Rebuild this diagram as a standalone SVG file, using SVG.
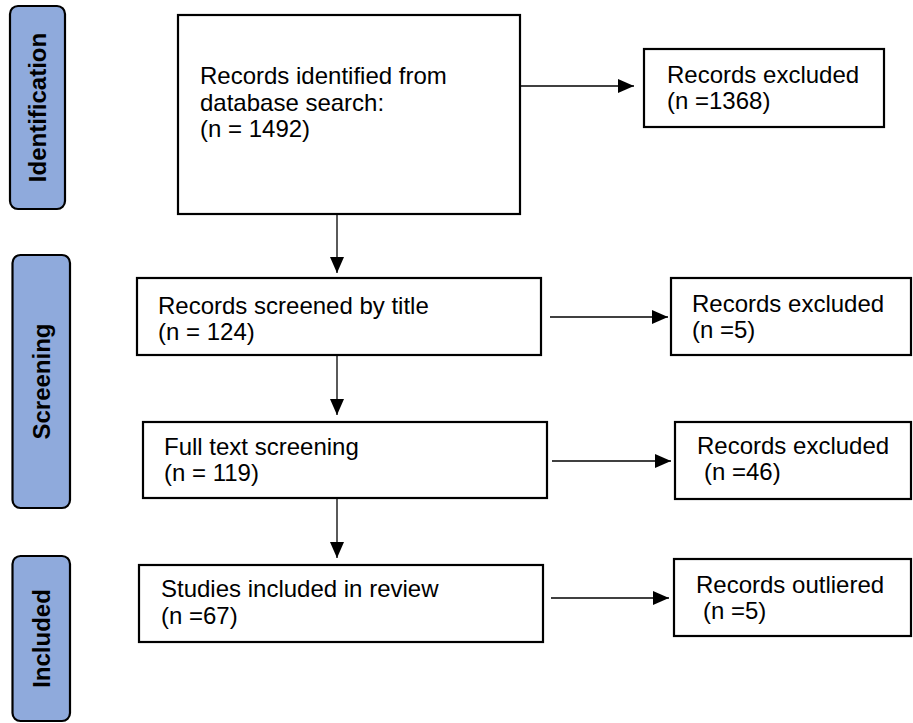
<svg xmlns="http://www.w3.org/2000/svg" width="913" height="723" viewBox="0 0 913 723">
<style>
.side{fill:#8faadc;stroke:#000;stroke-width:2.2}
.box{fill:#fff;stroke:#000;stroke-width:2.2}
.t{font-family:"Liberation Sans",Arial,sans-serif;font-size:24px;fill:#000}
.lbl{font-family:"Liberation Sans",Arial,sans-serif;font-size:24px;font-weight:bold;fill:#000;text-anchor:middle}
.c{stroke:#000;stroke-width:1.3;fill:none;marker-end:url(#ah)}
</style>
<defs>
<marker id="ah" markerUnits="userSpaceOnUse" markerWidth="16" markerHeight="14" refX="16" refY="7" orient="auto">
<path d="M0,0 L16,7 L0,14 Z" fill="#000"/>
</marker>
</defs>
<rect width="913" height="723" fill="#fff"/>
<g id="side-identification">
<rect class="side" x="10" y="6" width="55" height="203" rx="8"/>
<text class="lbl" transform="translate(46,107.5) rotate(-90)">Identification</text>
</g>
<g id="side-screening">
<rect class="side" x="12.5" y="255" width="57.5" height="253" rx="8"/>
<text class="lbl" transform="translate(50,381.5) rotate(-90)">Screening</text>
</g>
<g id="side-included">
<rect class="side" x="12.5" y="556" width="57.5" height="165" rx="8"/>
<text class="lbl" transform="translate(50,638.5) rotate(-90)">Included</text>
</g>
<g id="connectors">
<line class="c" x1="517" y1="86" x2="634" y2="86"/>
<line class="c" x1="337" y1="214" x2="337" y2="273"/>
<line class="c" x1="550" y1="317" x2="668" y2="317"/>
<line class="c" x1="337" y1="355" x2="337" y2="415"/>
<line class="c" x1="552" y1="461" x2="671" y2="461"/>
<line class="c" x1="337" y1="498" x2="337" y2="558"/>
<line class="c" x1="551" y1="598" x2="669" y2="598"/>
</g>
<g id="n-identified">
<rect class="box" x="178" y="15" width="342" height="199"/>
<text class="t" x="200" y="84">Records identified from</text>
<text class="t" x="200" y="111">database search:</text>
<text class="t" x="200" y="137">(n = 1492)</text>
</g>
<g id="n-excluded1">
<rect class="box" x="644" y="49" width="240" height="78"/>
<text class="t" x="667" y="83">Records excluded</text>
<text class="t" x="667" y="109">(n =1368)</text>
</g>
<g id="n-screened">
<rect class="box" x="137" y="278" width="404" height="77"/>
<text class="t" x="158" y="314">Records screened by title</text>
<text class="t" x="158" y="340">(n = 124)</text>
</g>
<g id="n-excluded2">
<rect class="box" x="671" y="278" width="240" height="77"/>
<text class="t" x="692" y="312">Records excluded</text>
<text class="t" x="692" y="338">(n =5)</text>
</g>
<g id="n-fulltext">
<rect class="box" x="143" y="422" width="404" height="76"/>
<text class="t" x="164" y="455">Full text screening</text>
<text class="t" x="164" y="481">(n = 119)</text>
</g>
<g id="n-excluded3">
<rect class="box" x="675" y="422" width="236" height="77"/>
<text class="t" x="697" y="454">Records excluded</text>
<text class="t" x="704" y="480">(n =46)</text>
</g>
<g id="n-included">
<rect class="box" x="139" y="565" width="404" height="77"/>
<text class="t" x="161" y="597">Studies included in review</text>
<text class="t" x="161" y="624">(n =67)</text>
</g>
<g id="n-outliered">
<rect class="box" x="674" y="559" width="237" height="77"/>
<text class="t" x="696" y="593">Records outliered</text>
<text class="t" x="703" y="619">(n =5)</text>
</g>
</svg>
